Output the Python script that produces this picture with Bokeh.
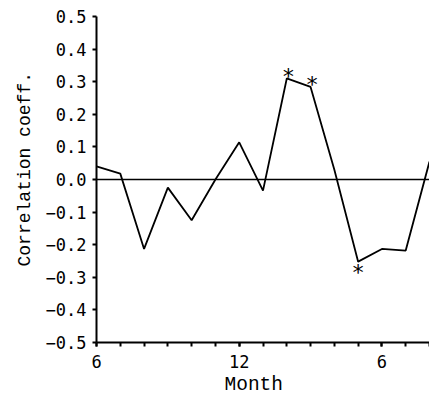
from bokeh.plotting import figure
from bokeh.models import Range1d, FixedTicker, CustomJSTickFormatter, Span, ColumnDataSource, Title
from bokeh.core.properties import value
from bokeh.embed import file_html
from bokeh.resources import INLINE

# data
months = [6, 7, 8, 9, 10, 11, 12, 13, 14, 15, 16, 17, 18, 19, 20]
corr = [0.04, 0.018, -0.213, -0.025, -0.125, 0.0, 0.114, -0.034, 0.31, 0.284, 0.03, -0.252, -0.213, -0.218, 0.055]
sig_above = [14, 15]
sig_below = [17]
x_major_ticks = [6, 12, 18]
y_ticks = [-0.5, -0.4, -0.3, -0.2, -0.1, 0.0, 0.1, 0.2, 0.3, 0.4, 0.5]
x_title = "Month"
y_title = "Correlation coeff."

p = figure(width=429, height=397, output_backend="svg", toolbar_location=None,
           x_range=Range1d(6, 20), y_range=Range1d(-0.5, 0.5),
           min_border_left=96, min_border_top=16, min_border_right=0, min_border_bottom=53)
p.outline_line_color = None
p.xgrid.visible = False
p.ygrid.visible = False
p.background_fill_color = "white"
p.border_fill_color = "white"

tick_font = "DejaVu Sans Mono"
label_font = "Liberation Mono"

p.xaxis.ticker = FixedTicker(ticks=x_major_ticks, minor_ticks=months)
p.xaxis.formatter = CustomJSTickFormatter(code="return tick > 12 ? String(tick - 12) : String(tick);")
p.yaxis.ticker = FixedTicker(ticks=y_ticks, minor_ticks=[])
p.yaxis.formatter = CustomJSTickFormatter(code="return tick.toFixed(1).replace('-', '\u2212');")

for ax in (p.xaxis[0], p.yaxis[0]):
    ax.axis_line_width = 2
    ax.axis_line_color = "black"
    ax.major_tick_line_width = 2
    ax.minor_tick_line_width = 2
    ax.major_tick_in = 0
    ax.major_tick_out = 4
    ax.minor_tick_in = 0
    ax.minor_tick_out = 4
    ax.major_label_text_font = tick_font
    ax.major_label_text_font_size = "17px"
    ax.major_label_text_color = "black"

p.yaxis.minor_tick_out = 0
p.xaxis.major_label_standoff = 8
p.yaxis.major_label_standoff = 6

# axis titles as side-panel titles so they can be placed off-centre like the reference
p.add_layout(Title(text=x_title, align="left", offset=128, standoff=3,
                   text_font=label_font, text_font_size="19.5px", text_font_style="normal",
                   text_color="black"), "below")
p.add_layout(Title(text=y_title, align="left", offset=76, standoff=15,
                   text_font=label_font, text_font_size="18px", text_font_style="normal",
                   text_color="black"), "left")

p.add_layout(Span(location=0, dimension="width", line_color="black", line_width=1.5))

p.line(months, corr, line_color="black", line_width=1.8)

above_src = ColumnDataSource(dict(x=sig_above, y=[corr[months.index(m)] for m in sig_above]))
below_src = ColumnDataSource(dict(x=sig_below, y=[corr[months.index(m)] for m in sig_below]))
p.text(x="x", y="y", text=value("*"), source=above_src, text_font=value(tick_font),
       text_font_size="22px", text_align="center", text_baseline="middle",
       x_offset=1.5, y_offset=-2, text_color="black")
p.text(x="x", y="y", text=value("*"), source=below_src, text_font=value(tick_font),
       text_font_size="22px", text_align="center", text_baseline="middle",
       x_offset=0, y_offset=10.5, text_color="black")

open("out.html", "w").write(file_html(p, INLINE))
